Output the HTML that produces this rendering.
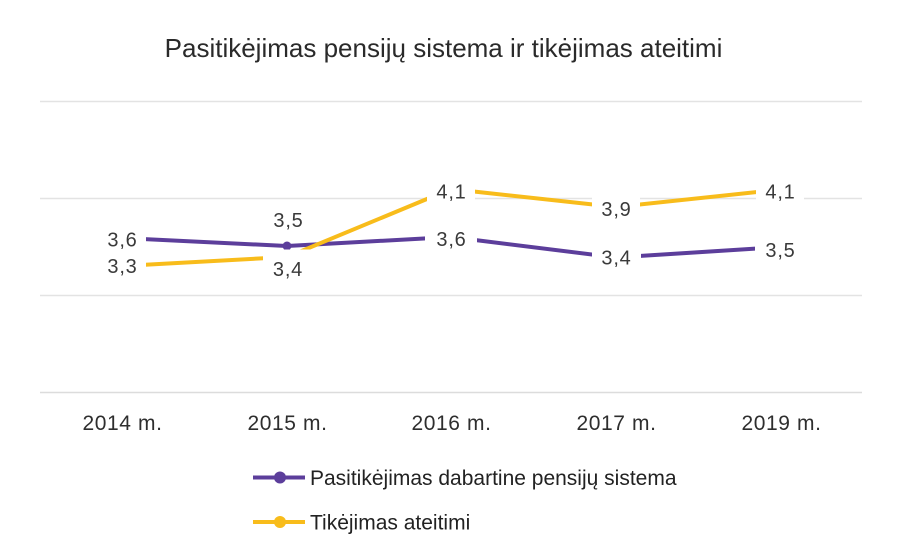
<!DOCTYPE html>
<html>
<head>
<meta charset="utf-8">
<style>
  html, body { margin:0; padding:0; background:#ffffff; }
  body { width:900px; height:560px; overflow:hidden; }
  svg { display:block; }
  text { font-family:"Liberation Sans", Arial, sans-serif; }
</style>
</head>
<body>
<svg width="900" height="560" viewBox="0 0 900 560" xmlns="http://www.w3.org/2000/svg">
  <rect x="0" y="0" width="900" height="560" fill="#ffffff"/>

  <!-- Title -->
  <text x="443.5" y="57" font-size="26" fill="#2a2a2a" text-anchor="middle">Pasitikėjimas pensijų sistema ir tikėjimas ateitimi</text>

  <!-- Grid lines -->
  <g stroke="#e3e3e3" stroke-width="1.5">
    <line x1="40" y1="101.5" x2="862" y2="101.5"/>
    <line x1="40" y1="198.5" x2="862" y2="198.5"/>
    <line x1="40" y1="295.5" x2="862" y2="295.5"/>
  </g>
  <line x1="40" y1="392.5" x2="862" y2="392.5" stroke="#dcdcdc" stroke-width="1.5"/>

  <!-- Purple series -->
  <polyline points="122,238 287,246 451,237 616,257.5 781,247" fill="none" stroke="#5c3e9b" stroke-width="4" stroke-linejoin="round"/>
  <g fill="#5c3e9b">
    <circle cx="122" cy="238" r="5"/>
    <circle cx="287" cy="246" r="4.5"/>
    <circle cx="451" cy="237" r="5"/>
    <circle cx="616" cy="257.5" r="5"/>
    <circle cx="781" cy="247" r="5"/>
  </g>

  <!-- Yellow series -->
  <polyline points="122,266 287,257 451,189 616,207 781,189.5" fill="none" stroke="#f8bc1b" stroke-width="4" stroke-linejoin="round"/>
  <g fill="#f8bc1b">
    <circle cx="122" cy="266" r="5"/>
    <circle cx="287" cy="257" r="5"/>
    <circle cx="451" cy="189" r="5"/>
    <circle cx="616" cy="207" r="5"/>
    <circle cx="781" cy="189.5" r="5"/>
  </g>

  <!-- Label backgrounds -->
  <g fill="#ffffff">
    <rect x="98" y="221.5" width="48" height="36"/>
    <rect x="98" y="248" width="48" height="36"/>
    <rect x="264" y="202" width="48" height="36"/>
    <rect x="263" y="249.5" width="48" height="37"/>
    <rect x="427" y="173.5" width="48" height="36"/>
    <rect x="425" y="221" width="52" height="36"/>
    <rect x="592" y="191" width="48" height="36"/>
    <rect x="592" y="239.5" width="49" height="36"/>
    <rect x="756" y="173.5" width="48" height="36"/>
    <rect x="755" y="232" width="50" height="36"/>
  </g>

  <!-- Data labels -->
  <g font-size="20" fill="#3a3a3a" text-anchor="middle" letter-spacing="0.8">
    <text x="122.5" y="246.5">3,6</text>
    <text x="122.5" y="273">3,3</text>
    <text x="288.5" y="227">3,5</text>
    <text x="288" y="276">3,4</text>
    <text x="451.5" y="198.5">4,1</text>
    <text x="451.5" y="246">3,6</text>
    <text x="616.5" y="216">3,9</text>
    <text x="616.5" y="264.5">3,4</text>
    <text x="780.5" y="198.5">4,1</text>
    <text x="780.5" y="257">3,5</text>
  </g>

  <!-- X axis labels -->
  <g font-size="21" fill="#2e2e2e" text-anchor="middle" letter-spacing="0.6">
    <text x="122.5" y="430">2014 m.</text>
    <text x="287.5" y="430">2015 m.</text>
    <text x="451.5" y="430">2016 m.</text>
    <text x="616.5" y="430">2017 m.</text>
    <text x="781.5" y="430">2019 m.</text>
  </g>

  <!-- Legend -->
  <line x1="253" y1="477.5" x2="305" y2="477.5" stroke="#5c3e9b" stroke-width="4"/>
  <circle cx="280" cy="477.5" r="6" fill="#5c3e9b"/>
  <text x="310" y="485" font-size="21" fill="#222222">Pasitikėjimas dabartine pensijų sistema</text>

  <line x1="253" y1="522" x2="305" y2="522" stroke="#f8bc1b" stroke-width="4"/>
  <circle cx="280" cy="522" r="6" fill="#f8bc1b"/>
  <text x="310" y="529.5" font-size="21" fill="#222222">Tikėjimas ateitimi</text>
</svg>
</body>
</html>
